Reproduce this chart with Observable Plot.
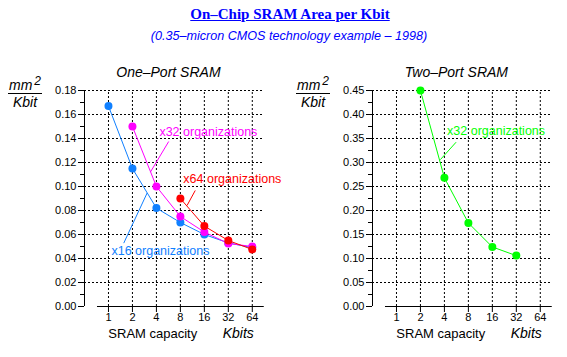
<!DOCTYPE html>
<html>
<head>
<meta charset="utf-8">
<script src="https://cdn.jsdelivr.net/npm/d3@7"></script>
<script src="https://cdn.jsdelivr.net/npm/@observablehq/plot@0.6"></script>
<style>
  html, body { margin: 0; padding: 0; background: #fff; }
  #wrap { position: relative; width: 567px; height: 357px; background: #fff; overflow: hidden; }
  .title { position: absolute; left: 0; width: 580px; text-align: center; color: #0000ff; }
  #t1 { top: 6px; font: bold 15px "Liberation Serif", "Times New Roman", serif; text-decoration: underline; }
  #t2 { top: 29px; font: italic 12.6px "Liberation Sans", Arial, sans-serif; width: 578px; }
  .ylab { position: absolute; font: italic 14px "Liberation Sans", Arial, sans-serif; color: #000; text-align: center; width: 34px; }
  .ylab .num { border-bottom: 1px solid #000; line-height: 14px; padding-bottom: 1px; }
  .ylab .num sup { font-size: 12px; vertical-align: 5px; line-height: 0; margin-left: 2px; }
  .ylab .den { line-height: 14px; padding-top: 1px; }
  .panel { position: absolute; top: 50px; }
</style>
</head>
<body>
<div id="wrap">
  <div class="title" id="t1">On–Chip SRAM Area per Kbit</div>
  <div class="title" id="t2">(0.35–micron CMOS technology example – 1998)</div>
  <div class="ylab" style="left:8px;top:78px"><div class="num">mm<sup>2</sup></div><div class="den">Kbit</div></div>
  <div class="ylab" style="left:296px;top:78px"><div class="num">mm<sup>2</sup></div><div class="den">Kbit</div></div>
  <div class="panel" id="left" style="left:0px"></div>
  <div class="panel" id="right" style="left:288px"></div>
</div>
<script>
// ---------- data ----------
const capacities = [1, 2, 4, 8, 16, 32, 64];

const onePortX16Caps = [1, 2, 4, 8, 16, 32, 64];
const onePortX16 = [0.167, 0.115, 0.082, 0.070, 0.060, 0.053, 0.049];

const onePortX32Caps = [2, 4, 8, 16, 32, 64];
const onePortX32 = [0.150, 0.100, 0.075, 0.062, 0.0525, 0.050];

const onePortX64Caps = [8, 16, 32, 64];
const onePortX64 = [0.090, 0.067, 0.055, 0.0475];

const twoPortX32Caps = [2, 4, 8, 16, 32];
const twoPortX32 = [0.450, 0.268, 0.174, 0.124, 0.106];

const onePortTicks = [0, 0.02, 0.04, 0.06, 0.08, 0.10, 0.12, 0.14, 0.16, 0.18];
const twoPortTicks = [0, 0.05, 0.10, 0.15, 0.20, 0.25, 0.30, 0.35, 0.40, 0.45];

const panelTitles = ["One–Port SRAM", "Two–Port SRAM"];
const xTitle = "SRAM capacity";
const xUnit = "Kbits";

// annotations (label text + leader lines, in data units)
const onePortLabels = [
  {text: "x32 organizations", x: 4.36, y: 0.1455, color: "#ff00ff"},
  {text: "x64 organizations", x: 8.72, y: 0.1065, color: "#ff0000"},
  {text: "x16 organizations", x: 1.09, y: 0.0462, color: "#1080ff"}
];
const onePortLeaders = [
  {x1: 5.71, y1: 0.1375, x2: 3.36, y2: 0.112, color: "#ff00ff"},
  {x1: 12.3, y1: 0.0967, x2: 9.71, y2: 0.0842, color: "#ff0000"},
  {x1: 1.556, y1: 0.0528, x2: 3.06, y2: 0.0946, color: "#1080ff"}
];
const twoPortLabels = [
  {text: "x32 organizations", x: 4.32, y: 0.3646, color: "#00ff00"}
];
const twoPortLeaders = [
  {x1: 5.61, y1: 0.3423, x2: 3.56, y2: 0.306, color: "#00ff00"}
];

// ---------- helpers ----------
const zip = (xs, ys, series) => xs.map((x, i) => ({x, y: ys[i], series}));

function panel({series, ticks, title, labels, leaders, width, marginRight}) {
  const yMax = ticks[ticks.length - 1];
  const step = ticks[1] - ticks[0];
  const minor = ticks.slice(0, -1).map(t => t + step / 2);
  const marks = [
    // grid
    Plot.ruleY(ticks.slice(1), {stroke: "#000", strokeDasharray: "2,2", strokeWidth: 1}),
    Plot.ruleX(capacities, {y1: 0, y2: yMax, stroke: "#000", strokeDasharray: "2,2", strokeWidth: 1}),
    // y axis line
    Plot.ruleX([0.5], {y1: 0, y2: yMax, stroke: "#000"}),
    // x axis line
    Plot.ruleY([0], {x1: 0.728, x2: 90.5, stroke: "#000"}),
    Plot.axisY(minor, {tickSize: 4, tickFormat: () => "", label: null}),
    Plot.axisY(ticks, {tickSize: 6, tickPadding: 2, tickFormat: d => d.toFixed(2), label: null, fontSize: 11}),
    Plot.axisX(capacities, {tickSize: 6, tickPadding: 1, tickFormat: d => String(d), label: null, fontSize: 11})
  ];
  for (const s of series) {
    marks.push(Plot.line(s.data, {x: "x", y: "y", stroke: s.color, strokeWidth: 1}));
    marks.push(Plot.dot(s.data, {x: "x", y: "y", fill: s.color, r: 4}));
  }
  marks.push(
    Plot.link(leaders, {x1: "x1", y1: "y1", x2: "x2", y2: "y2", stroke: "color", strokeWidth: 1}),
    Plot.text(labels, {x: "x", y: "y", text: "text", fill: "color", textAnchor: "start", fontSize: 12.5}),
    Plot.text([title], {x: [5.66], frameAnchor: "top", dy: -23, fontSize: 14, fontStyle: "italic"}),
    Plot.text([xTitle], {x: [3.6], frameAnchor: "bottom", dy: 31, fontSize: 13}),
    Plot.text([xUnit], {x: [42.7], frameAnchor: "bottom", dy: 31, fontSize: 14, fontStyle: "italic"})
  );
  return Plot.plot({
    width, height: 307,
    marginLeft: 84, marginRight, marginTop: 40, marginBottom: 51,
    style: {fontFamily: "'Liberation Sans', Arial, sans-serif", fontSize: "11px", background: "transparent", overflow: "visible", color: "#000"},
    x: {type: "log", base: 2, domain: [0.5, 86]},
    y: {domain: [0, yMax]},
    marks
  });
}

document.getElementById("left").append(panel({
  series: [
    {data: zip(onePortX16Caps, onePortX16, "x16"), color: "#1080ff"},
    {data: zip(onePortX32Caps, onePortX32, "x32"), color: "#ff00ff"},
    {data: zip(onePortX64Caps, onePortX64, "x64"), color: "#ff0000"}
  ],
  ticks: onePortTicks, title: panelTitles[0],
  labels: onePortLabels, leaders: onePortLeaders,
  width: 283, marginRight: 21
}));

document.getElementById("right").append(panel({
  series: [
    {data: zip(twoPortX32Caps, twoPortX32, "x32"), color: "#00ff00"}
  ],
  ticks: twoPortTicks, title: panelTitles[1],
  labels: twoPortLabels, leaders: twoPortLeaders,
  width: 279, marginRight: 17
}));
</script>
</body>
</html>
